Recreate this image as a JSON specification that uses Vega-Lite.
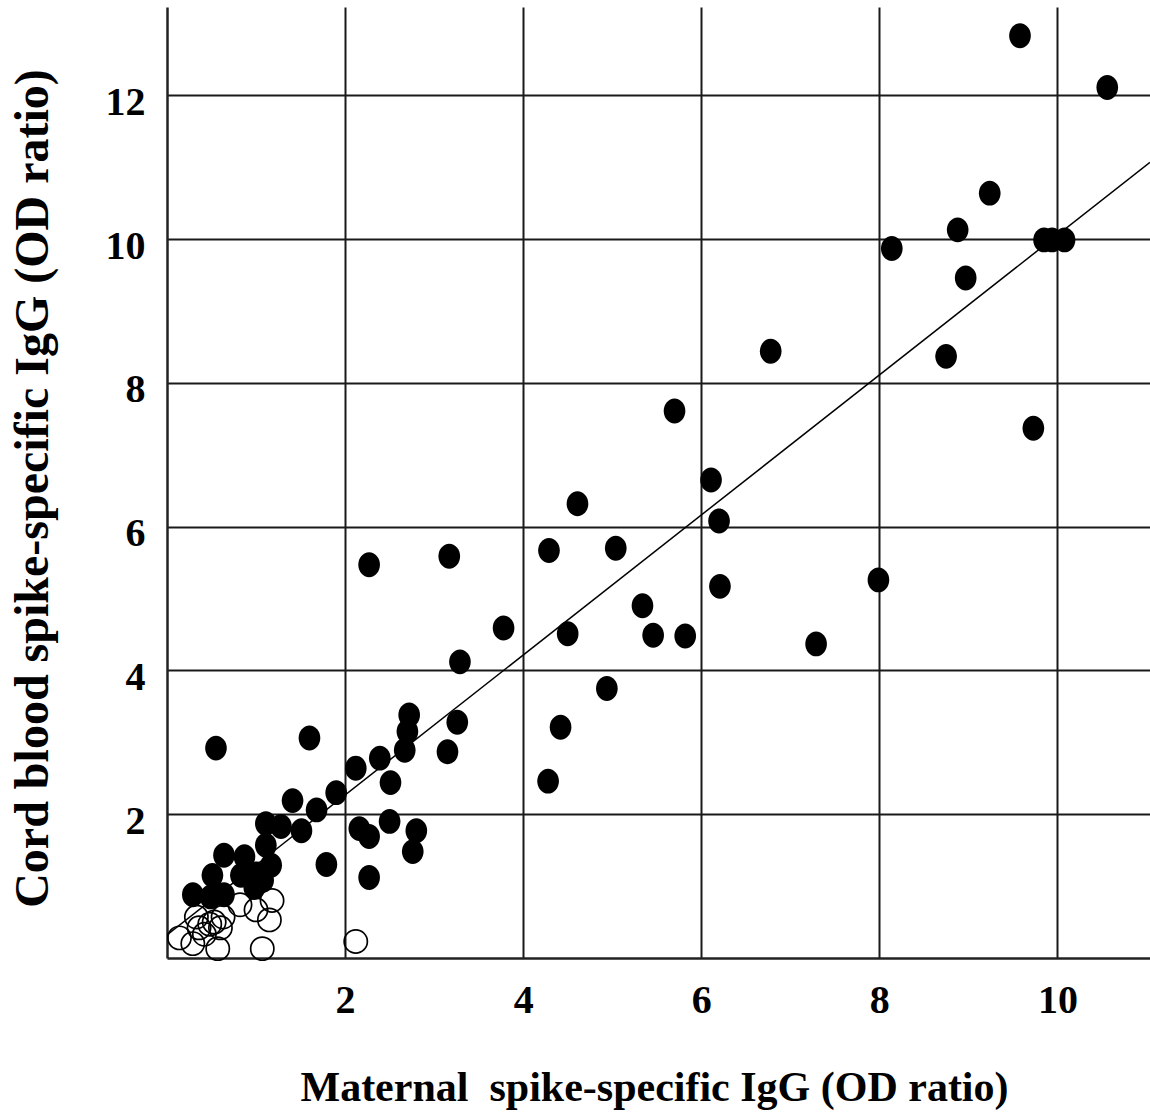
{
  "$schema": "https://vega.github.io/schema/vega-lite/v6.json",
  "autosize": {"type": "none"},
  "padding": {"left": 167, "top": 7, "right": 0, "bottom": 154},
  "width": 983,
  "height": 951,
  "background": "white",
  "config": {
    "view": {"stroke": null},
    "axis": {
      "labelFont": "Liberation Serif",
      "labelFontWeight": "bold",
      "labelColor": "black",
      "titleFont": "Liberation Serif",
      "titleFontWeight": "bold",
      "titleColor": "black",
      "ticks": false,
      "grid": true,
      "gridColor": "#1a1a1a",
      "gridWidth": 2,
      "gridOpacity": 1,
      "domainColor": "#222",
      "domainWidth": 2.5,
      "format": "d"
    }
  },
  "datasets": {
    "filled": [
      {"maternal": 9.58, "cord": 12.83},
      {"maternal": 10.56, "cord": 12.11},
      {"maternal": 9.24, "cord": 10.64},
      {"maternal": 8.88, "cord": 10.13},
      {"maternal": 8.14, "cord": 9.87},
      {"maternal": 9.85, "cord": 9.99},
      {"maternal": 9.94, "cord": 9.99},
      {"maternal": 10.08, "cord": 9.99},
      {"maternal": 8.97, "cord": 9.46},
      {"maternal": 6.78, "cord": 8.44},
      {"maternal": 8.75, "cord": 8.37},
      {"maternal": 9.73, "cord": 7.37},
      {"maternal": 5.70, "cord": 7.61},
      {"maternal": 6.11, "cord": 6.65},
      {"maternal": 4.61, "cord": 6.32},
      {"maternal": 6.20, "cord": 6.08},
      {"maternal": 3.17, "cord": 5.59},
      {"maternal": 4.29, "cord": 5.67},
      {"maternal": 5.04, "cord": 5.70},
      {"maternal": 2.27, "cord": 5.47},
      {"maternal": 6.21, "cord": 5.17},
      {"maternal": 7.99, "cord": 5.26},
      {"maternal": 5.34, "cord": 4.90},
      {"maternal": 3.78, "cord": 4.59},
      {"maternal": 4.50, "cord": 4.51},
      {"maternal": 5.46, "cord": 4.49},
      {"maternal": 5.82, "cord": 4.48},
      {"maternal": 7.29, "cord": 4.37},
      {"maternal": 3.29, "cord": 4.12},
      {"maternal": 4.94, "cord": 3.75},
      {"maternal": 3.26, "cord": 3.28},
      {"maternal": 4.42, "cord": 3.21},
      {"maternal": 2.72, "cord": 3.38},
      {"maternal": 2.70, "cord": 3.15},
      {"maternal": 2.67, "cord": 2.89},
      {"maternal": 3.15, "cord": 2.87},
      {"maternal": 2.39, "cord": 2.78},
      {"maternal": 2.12, "cord": 2.64},
      {"maternal": 2.51, "cord": 2.44},
      {"maternal": 4.28, "cord": 2.46},
      {"maternal": 0.55, "cord": 2.92},
      {"maternal": 1.60, "cord": 3.06},
      {"maternal": 1.90, "cord": 2.30},
      {"maternal": 1.41, "cord": 2.19},
      {"maternal": 1.68, "cord": 2.06},
      {"maternal": 1.51, "cord": 1.77},
      {"maternal": 2.50, "cord": 1.90},
      {"maternal": 2.16, "cord": 1.80},
      {"maternal": 2.27, "cord": 1.69},
      {"maternal": 2.80, "cord": 1.77},
      {"maternal": 2.76, "cord": 1.48},
      {"maternal": 1.79, "cord": 1.30},
      {"maternal": 2.27, "cord": 1.12},
      {"maternal": 1.11, "cord": 1.87},
      {"maternal": 1.28, "cord": 1.83},
      {"maternal": 1.11, "cord": 1.57},
      {"maternal": 0.64, "cord": 1.43},
      {"maternal": 0.87, "cord": 1.41},
      {"maternal": 1.17, "cord": 1.29},
      {"maternal": 0.51, "cord": 1.15},
      {"maternal": 0.83, "cord": 1.15},
      {"maternal": 1.01, "cord": 1.17},
      {"maternal": 1.08, "cord": 1.08},
      {"maternal": 0.98, "cord": 0.98},
      {"maternal": 0.29, "cord": 0.88},
      {"maternal": 0.49, "cord": 0.85},
      {"maternal": 0.64, "cord": 0.88}
    ],
    "open": [
      {"maternal": 1.18, "cord": 0.80},
      {"maternal": 1.15, "cord": 0.53},
      {"maternal": 0.82, "cord": 0.74},
      {"maternal": 1.00, "cord": 0.67},
      {"maternal": 0.63, "cord": 0.57},
      {"maternal": 0.53, "cord": 0.50},
      {"maternal": 0.33, "cord": 0.57},
      {"maternal": 0.48, "cord": 0.47},
      {"maternal": 0.36, "cord": 0.42},
      {"maternal": 0.42, "cord": 0.33},
      {"maternal": 0.60, "cord": 0.42},
      {"maternal": 0.14, "cord": 0.28},
      {"maternal": 0.29, "cord": 0.20},
      {"maternal": 0.57, "cord": 0.13},
      {"maternal": 1.07, "cord": 0.13},
      {"maternal": 2.12, "cord": 0.23}
    ],
    "fit": [
      {"maternal": 0, "cord": 0.32},
      {"maternal": 11.04, "cord": 11.07}
    ]
  },
  "layer": [
    {
      "data": {"name": "open"},
      "mark": {"type": "point", "shape": "circle", "filled": false, "stroke": "black", "strokeWidth": 1.7, "size": 540, "opacity": 1},
      "encoding": {
        "x": {
          "field": "maternal", "type": "quantitative",
          "scale": {"domain": [0, 11.04], "nice": false, "zero": false},
          "axis": {
            "values": [2, 4, 6, 8, 10],
            "labelFontSize": 40,
            "labelPadding": 22,
            "title": "Maternal\u00a0 spike-specific IgG (OD ratio)",
            "titleFontSize": 42,
            "titleBaseline": "alphabetic",
            "titleY": 142,
            "titleX": 487
          }
        },
        "y": {
          "field": "cord", "type": "quantitative",
          "scale": {"domain": [0, 13.23], "nice": false, "zero": false},
          "axis": {
            "values": [2, 4, 6, 8, 10, 12],
            "labelFontSize": 40,
            "labelPadding": 22,
            "labelOffset": 7,
            "title": "Cord blood spike-specific IgG (OD ratio)",
            "titleFontSize": 48,
            "titleBaseline": "alphabetic",
            "titleAngle": -90,
            "titleX": -120,
            "titleY": 481
          }
        }
      }
    },
    {
      "data": {"name": "filled"},
      "mark": {"type": "point", "shape": "M0,-1 A0.87,1 0 1,1 0,1 A0.87,1 0 1,1 0,-1 Z", "filled": true, "fill": "black", "strokeWidth": 0, "size": 620, "opacity": 1},
      "encoding": {
        "x": {"field": "maternal", "type": "quantitative"},
        "y": {"field": "cord", "type": "quantitative"}
      }
    },
    {
      "data": {"name": "fit"},
      "mark": {"type": "line", "color": "black", "strokeWidth": 1.5, "clip": true},
      "encoding": {
        "x": {"field": "maternal", "type": "quantitative"},
        "y": {"field": "cord", "type": "quantitative"}
      }
    }
  ]
}
